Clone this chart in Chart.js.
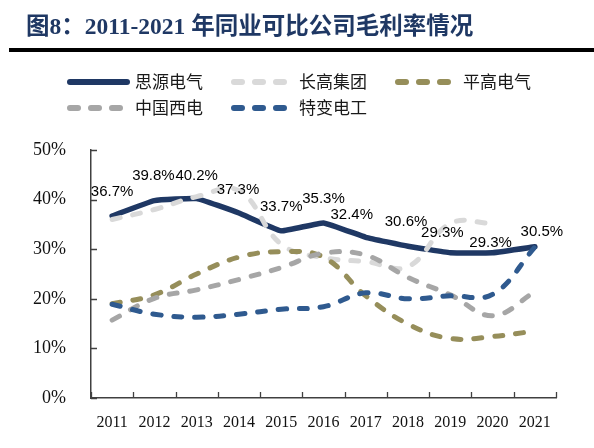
<!DOCTYPE html>
<html>
<head>
<meta charset="utf-8">
<script src="https://cdn.jsdelivr.net/npm/chart.js@4.4.1/dist/chart.umd.min.js"></script>
<style>
    html, body { margin: 0; padding: 0; background: #fff; }
    #wrap { position: relative; width: 594px; height: 448px; overflow: hidden; }
    #chart { position: absolute; left: 0; top: 0; }
    #title {
        position: absolute; left: 26px; top: 11px;
        font: bold 23.5px "Liberation Serif", "Noto Sans CJK SC", serif;
        line-height: 30px; color: #1f3864; white-space: nowrap;
    }
    #rule { position: absolute; left: 9px; top: 48px; width: 585px; height: 4px; background: #000; }
</style>
</head>
<body>
<div id="wrap">
    <canvas id="chart" width="594" height="448"></canvas>
    <div id="title">图8：2011-2021 年同业可比公司毛利率情况</div>
    <div id="rule"></div>
</div>
<script>
const years = ['2011', '2012', '2013', '2014', '2015', '2016', '2017', '2018', '2019', '2020', '2021'];
const yTicks = [0, 10, 20, 30, 40, 50];

// 毛利率 (%)
const siyuan   = [36.7, 39.8, 40.2, 37.3, 33.7, 35.3, 32.4, 30.6, 29.3, 29.3, 30.5];
const changgao = [36.0, 38.0, 40.6, 41.8, 31.0, 28.3, 27.5, 26.5, 35.2, 35.2, null];
const pinggao  = [19.0, 20.8, 25.0, 28.4, 29.5, 28.4, 20.6, 14.9, 12.0, 12.4, 13.5];
const xidian   = [15.7, 20.1, 21.8, 23.9, 26.3, 29.2, 28.8, 24.3, 20.8, 16.6, 21.4];
const tebian   = [18.9, 16.9, 16.3, 16.9, 17.9, 18.4, 21.2, 20.0, 20.6, 20.9, 30.4];

const seriesNames = ['思源电气', '长高集团', '平高电气', '中国西电', '特变电工'];

// where each label of the 思源电气 line sits relative to its point
const labelNudge = [[0, -24], [-1, -25], [0, -23], [-1, -23], [0, -24], [0, -24],
                    [-14, -22], [-2, -24], [-8, -20], [-2, -10], [7, -15]];
// legend slots: [x, y] of each sample start
const legendSpots = [[67, 82], [231, 82], [395, 82], [67, 108], [231, 108]];

class MarginChart {

    makeDataSet(labelText, dataList, colour, dashed, order){
        return {
            label: labelText,
            data: dataList,
            fill: false,
            borderColor: colour,
            borderWidth: dashed ? 5 : 5.5,
            borderDash: dashed ? [8, 13] : [],
            borderCapStyle: 'round',
            borderJoinStyle: 'round',
            tension: dashed ? 0.4 : 0.1,
            pointRadius: 0,
            order: order
        }
    }

    tickPlugin(){
        return {
            id: 'innerTicks',
            afterDraw(chart){
                const ctx = chart.ctx;
                const x = chart.scales.x, y = chart.scales.y;
                ctx.save();
                ctx.strokeStyle = '#404040';
                ctx.lineWidth = 1.3;
                ctx.beginPath();
                y.ticks.forEach(t => {
                    const py = Math.round(y.getPixelForValue(t.value)) + 0.5;
                    ctx.moveTo(x.left, py);
                    ctx.lineTo(x.left + 6, py);
                });
                const step = x.getPixelForValue(1) - x.getPixelForValue(0);
                for (let i = 0; i <= years.length; i++) {
                    const px = Math.round(x.getPixelForValue(0) - step / 2 + i * step) + 0.5;
                    ctx.moveTo(px, y.bottom);
                    ctx.lineTo(px, y.bottom - 6);
                }
                ctx.stroke();
                ctx.restore();
            }
        }
    }

    labelPlugin(){
        return {
            id: 'pointLabels',
            afterDatasetsDraw(chart){
                const ctx = chart.ctx;
                const meta = chart.getDatasetMeta(0);
                ctx.save();
                ctx.font = '15px "Liberation Sans", Arial, sans-serif';
                ctx.fillStyle = '#000';
                ctx.textAlign = 'center';
                ctx.textBaseline = 'middle';
                meta.data.forEach((pt, i) => {
                    const n = labelNudge[i];
                    ctx.fillText(siyuan[i].toFixed(1) + '%', pt.x + n[0], pt.y + n[1]);
                });
                ctx.restore();
            }
        }
    }

    legendPlugin(){
        return {
            id: 'sampleLegend',
            afterDraw(chart){
                const ctx = chart.ctx;
                chart.data.datasets.forEach((ds, i) => {
                    const [x, y] = legendSpots[i];
                    ctx.save();
                    ctx.strokeStyle = ds.borderColor;
                    ctx.lineWidth = 6;
                    ctx.lineCap = 'round';
                    ctx.beginPath();
                    if (ds.borderDash.length) {
                        ctx.setLineDash([8, 13]);
                        ctx.moveTo(x + 3, y);
                        ctx.lineTo(x + 53, y);
                    } else {
                        ctx.moveTo(x + 3, y);
                        ctx.lineTo(x + 60, y);
                    }
                    ctx.stroke();
                    ctx.setLineDash([]);
                    ctx.font = '17px "Noto Sans CJK SC", sans-serif';
                    ctx.fillStyle = '#1a1a1a';
                    ctx.textBaseline = 'middle';
                    ctx.fillText(ds.label, x + 68, y);
                    ctx.restore();
                });
            }
        }
    }

    drawChart(ctx){
        const serif = { family: '"Liberation Serif", "Times New Roman", serif' };
        return new Chart(ctx, {
            type: 'line',
            data: {
                labels: years,
                datasets: [
                    this.makeDataSet(seriesNames[0], siyuan,   '#1f3864', false, 4),
                    this.makeDataSet(seriesNames[1], changgao, '#d9d9d9', true, 3),
                    this.makeDataSet(seriesNames[2], pinggao,  '#968e5a', true, 2),
                    this.makeDataSet(seriesNames[3], xidian,   '#a6a6a6', true, 1),
                    this.makeDataSet(seriesNames[4], tebian,   '#2f5a8f', true, 0)
                ]
            },
            options: {
                responsive: false,
                maintainAspectRatio: false,
                animation: { duration: 0 },
                layout: { padding: { top: 150, right: 38, bottom: 0, left: 0 } },
                plugins: { legend: { display: false }, tooltip: { enabled: false } },
                scales: {
                    x: {
                        offset: true,
                        grid: { display: false, offset: true },
                        border: { display: true, color: '#404040', width: 1.5 },
                        ticks: { color: '#111', padding: 7, font: { ...serif, size: 16 } },
                        afterFit: s => { s.height = 50; }
                    },
                    y: {
                        min: 0,
                        max: 50,
                        grid: { display: false },
                        border: { display: true, color: '#404040', width: 1.5 },
                        afterBuildTicks: s => { s.ticks = yTicks.map(v => ({ value: v })); },
                        ticks: { color: '#111', padding: 17, font: { ...serif, size: 18 },
                                 callback: v => v + '%' },
                        afterFit: s => { s.width = 91; }
                    }
                }
            },
            plugins: [this.tickPlugin(), this.labelPlugin(), this.legendPlugin()]
        })
    }
}

new MarginChart().drawChart(document.getElementById('chart').getContext('2d'));
</script>
</body>
</html>
